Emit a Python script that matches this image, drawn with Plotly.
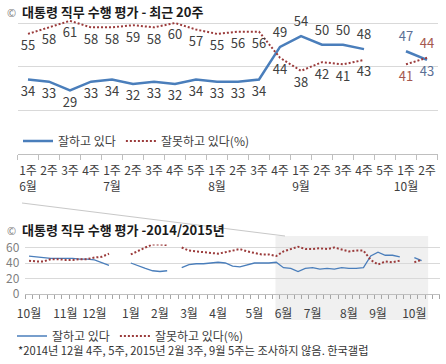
import plotly.graph_objects as go

# ---------------- data ----------------
# recent 20 weeks (2015-06 wk1 .. 2015-10 wk2)
weeks = ["1주", "2주", "3주", "4주", "1주", "2주", "3주", "4주", "5주",
         "1주", "2주", "3주", "4주", "1주", "2주", "3주", "4주", "5주", "1주", "2주"]
week_months = ["6월", "", "", "", "7월", "", "", "", "", "8월", "", "", "",
               "9월", "", "", "", "", "10월", ""]
recent_approve = [34, 33, 29, 33, 34, 32, 33, 32, 34, 33, 33, 34, 49, 54, 50, 50, 48, None, 47, 43]
recent_disapprove = [55, 58, 61, 58, 58, 59, 58, 60, 57, 55, 56, 56, 44, 38, 42, 41, 43, None, 41, 44]

# earlier weeks (2014-10 wk1 .. 2015-05 wk4)
early_approve = [49, 48, 47, 46, 46, 46, 46, 45, 45, 44, 41, 37,
                 None, None,
                 40, 36, 33, 30, 29, 30,
                 None,
                 34, 38, 39, 39, 40, 41, 40, 36, 35, 38, 40, 40, 40, 41]
early_disapprove = [43, 42, 42, 45, 45, 44, 44, 45, 45, 47, 48, 52,
                    None, None,
                    51, 56, 60, 64, 64, 63,
                    None,
                    60, 56, 55, 54, 53, 52, 54, 56, 58, 55, 53, 51, 51, 49]

month_labels = ["10월", "11월", "12월", "1월", "2월", "3월", "4월", "5월",
                "6월", "7월", "8월", "9월", "10월"]
month_weeks = [5, 4, 5, 4, 4, 4, 5, 4, 4, 5, 4, 5, 2]

series_names = ["잘하고 있다", "잘못하고 있다(%)"]

# ---------------- derived ----------------
long_approve = early_approve + recent_approve
long_disapprove = early_disapprove + recent_disapprove
n_long = len(long_approve)
xl = list(range(n_long))
month_starts = []
acc = 0
for w in month_weeks:
    month_starts.append(acc)
    acc += w

xs = list(range(len(weeks)))
top_ticktext = [f"{w}<br>{m}" if m else w for w, m in zip(weeks, week_months)]

# ---------------- styles ----------------
FONT = "Noto Sans CJK KR, Noto Sans, sans-serif"
BLUE = "#4a7ebb"
RED = "#9b3b3b"
GRID = "#d9d9d9"
AXIS = "#bfbfbf"
TXT = "#404040"
CLEAR = "rgba(0,0,0,0)"

n = len(weeks)
appr_pos = ["bottom center"] * 12 + ["top center"] * 7 + ["bottom center"]
dis_pos = ["bottom center"] * 19 + ["top center"]
appr_col = [TXT] * 18 + ["#5b6f95", "#5b6f95"]
dis_col = [TXT] * 18 + ["#a5574f", "#a5574f"]

fig = go.Figure()

fig.add_trace(go.Scatter(
    x=xs, y=recent_approve, mode="lines+markers+text", name=series_names[0],
    text=["" if v is None else str(v) for v in recent_approve],
    textposition=appr_pos, textfont=dict(size=13, color=appr_col, family=FONT),
    marker=dict(size=9, color=CLEAR),
    line=dict(color=BLUE, width=2.5), xaxis="x", yaxis="y", legend="legend",
    connectgaps=False, hoverinfo="skip"))
fig.add_trace(go.Scatter(
    x=xs, y=recent_disapprove, mode="lines+markers+text", name=series_names[1],
    text=["" if v is None else str(v) for v in recent_disapprove],
    textposition=dis_pos, textfont=dict(size=13, color=dis_col, family=FONT),
    marker=dict(size=9, color=CLEAR),
    line=dict(color=RED, width=2, dash="2px,2px"), xaxis="x", yaxis="y", legend="legend",
    connectgaps=False, hoverinfo="skip"))

fig.add_trace(go.Scatter(
    x=xl, y=long_approve, mode="lines", name=series_names[0],
    line=dict(color=BLUE, width=1.3), xaxis="x2", yaxis="y2", legend="legend2",
    connectgaps=False, hoverinfo="skip"))
fig.add_trace(go.Scatter(
    x=xl, y=long_disapprove, mode="lines", name=series_names[1],
    line=dict(color=RED, width=2, dash="2px,2px"), xaxis="x2", yaxis="y2", legend="legend2",
    connectgaps=False, hoverinfo="skip"))

W, H = 446, 364


def px(x):
    return x / W


def py(y):
    return (H - y) / H


fig.update_layout(
    template="none",
    width=W, height=H,
    margin=dict(l=0, r=0, t=0, b=0, autoexpand=False),
    paper_bgcolor="white", plot_bgcolor=CLEAR,
    font=dict(family=FONT, color=TXT, size=12),
    xaxis=dict(domain=[px(17.5), px(437.5)], range=[-0.5, n - 0.5], anchor="y",
               automargin=False, tickangle=0, ticklabelstandoff=6,
               tickmode="array", tickvals=xs, ticktext=top_ticktext, ticks="",
               showline=True, linecolor=AXIS, linewidth=1, showgrid=False, zeroline=False,
               tickfont=dict(size=12, color=TXT),
               minor=dict(tickmode="array", tickvals=[i - 0.5 for i in range(n + 1)],
                          ticks="outside", ticklen=5, tickcolor=AXIS, showgrid=False)),
    yaxis=dict(domain=[py(153.5), py(14.3)], range=[0, 64], anchor="x",
               automargin=False,
               tickvals=[20, 40, 60], showticklabels=False, gridcolor=GRID, gridwidth=1,
               zeroline=False, showline=False, ticks=""),
    xaxis2=dict(domain=[px(25.4), px(439.8)], range=[-0.5, 56.5], anchor="y2",
                automargin=False, tickangle=0, ticklabelstandoff=9,
                tickmode="array", tickvals=month_starts, ticktext=month_labels, ticks="",
                showline=True, linecolor=AXIS, linewidth=1, showgrid=False, zeroline=False,
                tickfont=dict(size=12, color=TXT),
                minor=dict(tickmode="array", tickvals=[i - 0.5 for i in range(58)],
                           ticks="outside", ticklen=4, tickcolor="#a6a6a6", showgrid=False)),
    yaxis2=dict(domain=[py(294), py(244.4)], range=[0, 64], anchor="x2",
                automargin=False, ticks="", ticklabelstandoff=5,
                tickvals=[0, 20, 40, 60], gridcolor=GRID, gridwidth=1, zeroline=False, showline=False,
                tickfont=dict(size=12, color="#7f7f7f")),
    legend=dict(orientation="h", x=px(18), y=py(141), xanchor="left", yanchor="middle",
                font=dict(size=12, color=TXT), bgcolor=CLEAR, itemwidth=30),
    legend2=dict(orientation="h", x=px(12), y=py(336), xanchor="left", yanchor="middle",
                 font=dict(size=12, color=TXT), bgcolor=CLEAR, itemwidth=30),
    showlegend=True,
    shapes=[
        dict(type="rect", xref="x2", yref="paper", x0=33.9, x1=54.9, y0=py(320), y1=py(236),
             fillcolor="#f0f0f0", line=dict(width=0), layer="below"),
        dict(type="line", xref="paper", yref="paper", x0=px(22), y0=py(203), x1=px(285), y1=py(236),
             line=dict(color="#c8c8c8", width=1)),
    ],
    annotations=[
        dict(xref="paper", yref="paper", x=px(5), y=py(12), xanchor="left", yanchor="middle",
             showarrow=False,
             text="<span style='color:#808080;font-size:11px'>©</span>  <b>대통령 직무 수행 평가 - 최근 20주</b>",
             font=dict(size=13, color="#1a1a1a", family=FONT)),
        dict(xref="paper", yref="paper", x=px(5), y=py(229), xanchor="left", yanchor="middle",
             showarrow=False,
             text="<span style='color:#808080;font-size:11px'>©</span>  <b>대통령 직무 수행 평가 -2014/2015년</b>",
             font=dict(size=13, color="#1a1a1a", family=FONT)),
        dict(xref="paper", yref="paper", x=px(16), y=py(350), xanchor="left", yanchor="middle",
             showarrow=False,
             text="*2014년 12월 4주, 5주, 2015년 2월 3주, 9월 5주는 조사하지 않음. 한국갤럽",
             font=dict(size=11.2, color="#333333", family=FONT)),
    ],
)

fig.write_html("out.html", config={"displayModeBar": False},
               post_script="document.body.style.margin='0';document.body.style.overflow='hidden';")
